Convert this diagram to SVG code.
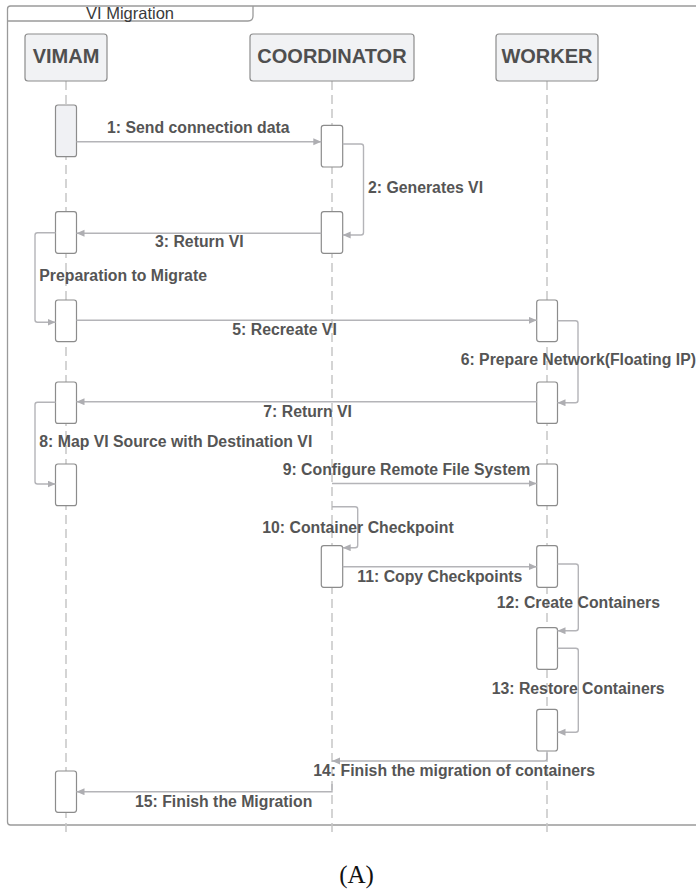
<svg xmlns="http://www.w3.org/2000/svg" width="696" height="889" viewBox="0 0 696 889">
  <style>
    .frame { fill: none; stroke: #9a9a9a; stroke-width: 1.3; }
    .title { font-family: "Liberation Sans", Arial, sans-serif; font-size: 16.5px; fill: #3a3a3a; text-anchor: middle; }
    .hdr { fill: #f1f2f4; stroke: #8c8c8c; stroke-width: 1.2; }
    .hdr-text { font-family: "Liberation Sans", Arial, sans-serif; font-size: 20px; font-weight: bold; fill: #4f4f4f; text-anchor: middle; }
    .lifeline { stroke: #c6c6c6; stroke-width: 1.5; stroke-dasharray: 9 5; fill: none; }
    .act { fill: #ffffff; stroke: #8c8c8c; stroke-width: 1.2; }
    .act-filled { fill: #f0f1f4; stroke: #8c8c8c; stroke-width: 1.2; }
    .msg { fill: none; stroke: #b4b4b8; stroke-width: 1.4; marker-end: url(#arrow); }
    .lbl { font-family: "Liberation Sans", Arial, sans-serif; font-size: 15.8px; font-weight: bold; fill: #555555; }
    .caption { font-family: "Liberation Serif", "Times New Roman", serif; font-size: 25px; fill: #111111; text-anchor: middle; }
  </style>
  <defs>
    <marker id="arrow" markerUnits="userSpaceOnUse" markerWidth="9" markerHeight="8" refX="8" refY="3.5" orient="auto">
      <path d="M0,0 L8,3.5 L0,7 z" fill="#aeaeb2"/>
    </marker>
  </defs>

  <rect width="696" height="889" fill="#ffffff"/>

  <!-- sequence frame with title tab -->
  <g id="frame">
    <path class="frame" d="M704,6 H10.5 Q7.5,6 7.5,9 V822 Q7.5,825 10.5,825 H704"/>
    <path class="frame" d="M7.5,21 H248 Q253,21 253,16 V6"/>
    <text class="title" x="130" y="19.3">VI Migration</text>
  </g>

  <!-- lifelines -->
  <g id="lifelines">
    <line class="lifeline" x1="66" y1="81" x2="66" y2="836"/>
    <line class="lifeline" x1="332" y1="81" x2="332" y2="836"/>
    <line class="lifeline" x1="547" y1="81" x2="547" y2="836"/>
  </g>

  <!-- participants -->
  <g id="vimam">
    <rect class="hdr" x="25" y="34" width="82" height="47" rx="3"/>
    <text class="hdr-text" x="66" y="62.5">VIMAM</text>
  </g>
  <g id="coordinator">
    <rect class="hdr" x="250" y="34" width="164" height="47" rx="3"/>
    <text class="hdr-text" x="332" y="62.5">COORDINATOR</text>
  </g>
  <g id="worker">
    <rect class="hdr" x="496" y="34" width="102" height="47" rx="3"/>
    <text class="hdr-text" x="547" y="62.5">WORKER</text>
  </g>

  <!-- activation bars -->
  <g id="activations">
    <rect class="act-filled" x="55.5" y="105" width="21" height="51.7" rx="2.5"/>
    <rect class="act" x="55.5" y="211.7" width="21" height="41.6" rx="2.5"/>
    <rect class="act" x="55.5" y="300" width="21" height="41.6" rx="2.5"/>
    <rect class="act" x="55.5" y="382" width="21" height="41.4" rx="2.5"/>
    <rect class="act" x="55.5" y="464" width="21" height="41.7" rx="2.5"/>
    <rect class="act" x="55.5" y="771" width="21" height="41.3" rx="2.5"/>

    <rect class="act" x="321.3" y="125.3" width="21.4" height="41.7" rx="2.5"/>
    <rect class="act" x="321.3" y="211.7" width="21.4" height="41.6" rx="2.5"/>
    <rect class="act" x="321.3" y="545.7" width="21.4" height="41.6" rx="2.5"/>

    <rect class="act" x="536.7" y="300" width="20.8" height="41.6" rx="2.5"/>
    <rect class="act" x="536.7" y="382" width="20.8" height="41.4" rx="2.5"/>
    <rect class="act" x="536.7" y="464" width="20.8" height="41.7" rx="2.5"/>
    <rect class="act" x="536.7" y="545.7" width="20.8" height="41.6" rx="2.5"/>
    <rect class="act" x="536.7" y="627.7" width="20.8" height="41.6" rx="2.5"/>
    <rect class="act" x="536.7" y="709.3" width="20.8" height="41.7" rx="2.5"/>
  </g>

  <!-- messages -->
  <g id="connectors">
    <path class="msg" d="M76.5,141.7 H321.3"/>
    <path class="msg" d="M342.7,144 H361 Q363.5,144 363.5,146.5 V232.5 Q363.5,235 361,235 H342.7"/>
    <path class="msg" d="M321.3,233.3 H76.5"/>
    <path class="msg" d="M55.5,232.7 H37.5 Q35,232.7 35,235.2 V319.8 Q35,322.3 37.5,322.3 H55.5"/>
    <path class="msg" d="M76.5,320.3 H536.7"/>
    <path class="msg" d="M557.5,320.7 H575.5 Q578,320.7 578,323.2 V400.2 Q578,402.7 575.5,402.7 H557.5"/>
    <path class="msg" d="M536.7,401.7 H76.5"/>
    <path class="msg" d="M55.5,402.3 H37.5 Q35,402.3 35,404.8 V481.5 Q35,484 37.5,484 H55.5"/>
    <path class="msg" d="M332,483.5 H536.7"/>
    <path class="msg" d="M332,506.7 H355.2 Q357.7,506.7 357.7,509.2 V545.2 Q357.7,547.7 355.2,547.7 H342.7"/>
    <path class="msg" d="M342.7,566.7 H536.7"/>
    <path class="msg" d="M557.5,564 H575.8 Q578.3,564 578.3,566.5 V628.2 Q578.3,630.7 575.8,630.7 H557.5"/>
    <path class="msg" d="M557.5,648.3 H575.8 Q578.3,648.3 578.3,650.8 V729.8 Q578.3,732.3 575.8,732.3 H557.5"/>
    <path class="msg" d="M547,751 V758.5 Q547,761 544.5,761 H332"/>
    <path class="msg" d="M332,784 V791.7 H76.5"/>
  </g>

  <!-- message labels -->
  <g id="labels">
    <text class="lbl" x="107" y="133.3">1: Send connection data</text>
    <text class="lbl" x="368" y="192.5">2: Generates VI</text>
    <text class="lbl" x="155" y="247.2">3: Return VI</text>
    <text class="lbl" x="39.3" y="281">Preparation to Migrate</text>
    <text class="lbl" x="232.3" y="334.6">5: Recreate VI</text>
    <text class="lbl" x="460.7" y="364.6">6: Prepare Network(Floating IP)</text>
    <text class="lbl" x="263.3" y="416.7">7: Return VI</text>
    <text class="lbl" x="39.3" y="447">8: Map VI Source with Destination VI</text>
    <text class="lbl" x="282.7" y="474.7">9: Configure Remote File System</text>
    <text class="lbl" x="262.3" y="532.5">10: Container Checkpoint</text>
    <text class="lbl" x="357.3" y="581.5">11: Copy Checkpoints</text>
    <text class="lbl" x="496.7" y="608.2">12: Create Containers</text>
    <text class="lbl" x="491.7" y="694">13: Restore Containers</text>
    <text class="lbl" x="313.3" y="776">14: Finish the migration of containers</text>
    <text class="lbl" x="135" y="807.3">15: Finish the Migration</text>
  </g>

  <text class="caption" x="356.5" y="882.5">(A)</text>
</svg>
